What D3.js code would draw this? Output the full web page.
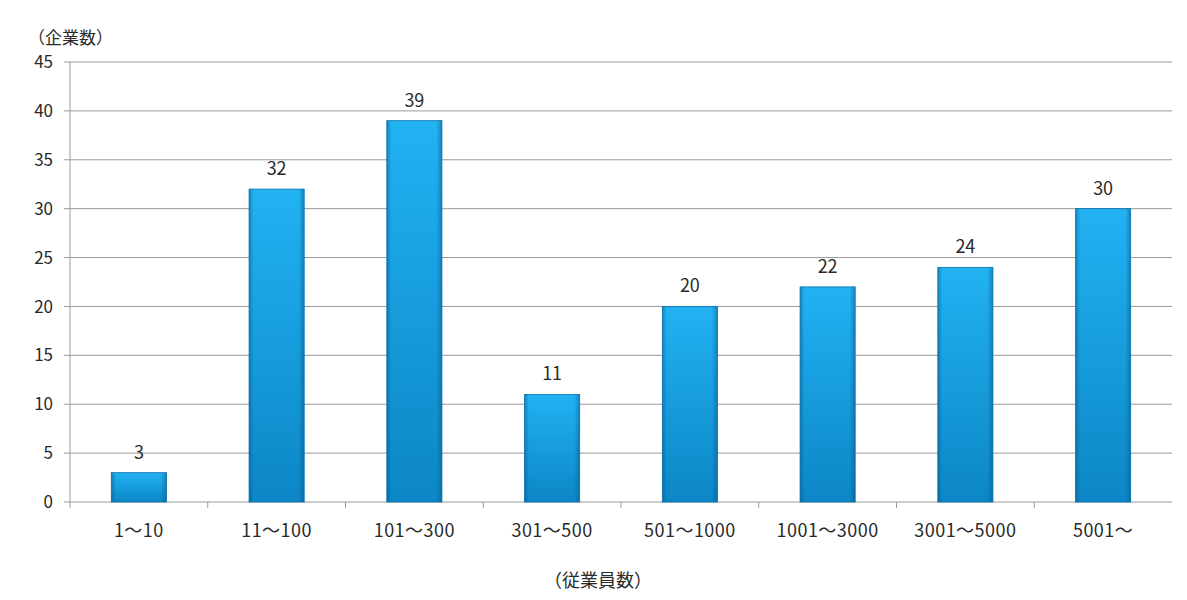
<!DOCTYPE html>
<html lang="ja">
<head>
    <meta charset="UTF-8">
    <title>企業数</title>
    <style>
        body { margin: 0; background: #fff; }
        text { font-family: "Noto Sans CJK JP", "DejaVu Sans", sans-serif; fill: #2a2a2a; }
    </style>
</head>
<body>
<svg></svg>
<script src="https://d3js.org/d3.v7.min.js"></script>
<script>
    var categories = ["1～10", "11～100", "101～300", "301～500", "501～1000", "1001～3000", "3001～5000", "5001～"];
    var counts = [3, 32, 39, 11, 20, 22, 24, 30];
    var yTicks = [0, 5, 10, 15, 20, 25, 30, 35, 40, 45];

    var width = 1187, height = 600;
    var plotLeft = 70, plotRight = 1172, plotTop = 62, plotBottom = 502;

    var svg = d3.select("svg").attr("width", width).attr("height", height);

    var defs = svg.append("defs");
    var vg = defs.append("linearGradient").attr("id", "barV").attr("x1", 0).attr("y1", 0).attr("x2", 0).attr("y2", 1);
    vg.append("stop").attr("offset", "0%").attr("stop-color", "#22b2f2");
    vg.append("stop").attr("offset", "100%").attr("stop-color", "#0c86c6");
    var hg = defs.append("linearGradient").attr("id", "barH").attr("x1", 0).attr("y1", 0).attr("x2", 1).attr("y2", 0);
    hg.append("stop").attr("offset", "0%").attr("stop-color", "#05507e").attr("stop-opacity", 0.45);
    hg.append("stop").attr("offset", "8%").attr("stop-color", "#05507e").attr("stop-opacity", 0);
    hg.append("stop").attr("offset", "90%").attr("stop-color", "#05507e").attr("stop-opacity", 0);
    hg.append("stop").attr("offset", "100%").attr("stop-color", "#05507e").attr("stop-opacity", 0.45);

    var x = d3.scaleBand().domain(categories).range([plotLeft, plotRight]).paddingInner(0.6).paddingOuter(0.3);
    var xb = d3.scaleBand().domain(categories).range([plotLeft, plotRight]);
    var y = d3.scaleLinear().domain([0, 45]).range([plotBottom, plotTop]);

    // gridlines
    svg.append("g").selectAll("line").data(yTicks).enter().append("line")
        .attr("x1", plotLeft - 6).attr("x2", plotRight)
        .attr("y1", function (d) { return y(d); })
        .attr("y2", function (d) { return y(d); })
        .attr("stroke", "#9a9a9a").attr("stroke-width", 1);

    // y axis line
    svg.append("line").attr("x1", plotLeft).attr("x2", plotLeft).attr("y1", plotTop).attr("y2", plotBottom + 6)
        .attr("stroke", "#9a9a9a");

    // x ticks at band boundaries
    svg.append("g").selectAll("line").data(categories.slice(1)).enter().append("line")
        .attr("x1", function (d) { return xb(d); })
        .attr("x2", function (d) { return xb(d); })
        .attr("y1", plotBottom).attr("y2", plotBottom + 6)
        .attr("stroke", "#9a9a9a");

    // y labels
    svg.append("g").selectAll("text").data(yTicks).enter().append("text")
        .attr("x", plotLeft - 17)
        .attr("y", function (d) { return y(d); })
        .attr("dy", "0.36em")
        .attr("text-anchor", "end")
        .style("font-size", "17px")
        .text(function (d) { return d; });

    // bars
    var bars = svg.append("g").selectAll("g").data(counts).enter().append("g");
    bars.append("rect")
        .attr("x", function (d, i) { return x(categories[i]); })
        .attr("y", function (d) { return y(d); })
        .attr("width", x.bandwidth())
        .attr("height", function (d) { return y(0) - y(d); })
        .attr("fill", "url(#barV)");
    bars.append("rect")
        .attr("x", function (d, i) { return x(categories[i]); })
        .attr("y", function (d) { return y(d); })
        .attr("width", x.bandwidth())
        .attr("height", function (d) { return y(0) - y(d); })
        .attr("fill", "url(#barH)")
        .attr("stroke", "#0a6ea8").attr("stroke-width", 0.8);

    // value labels
    svg.append("g").selectAll("text").data(counts).enter().append("text")
        .attr("x", function (d, i) { return x(categories[i]) + x.bandwidth() / 2; })
        .attr("y", function (d) { return y(d) - 14; })
        .attr("text-anchor", "middle")
        .style("font-size", "18px")
        .text(function (d) { return d; });

    // category labels
    svg.append("g").selectAll("text").data(categories).enter().append("text")
        .attr("x", function (d) { return x(d) + x.bandwidth() / 2; })
        .attr("y", 537)
        .attr("text-anchor", "middle")
        .style("font-size", "18px")
        .style("letter-spacing", "0.5px")
        .text(function (d) { return d; });

    svg.append("text").attr("x", 28).attr("y", 44).style("font-size", "17px").text("（企業数）");
    svg.append("text").attr("x", 598).attr("y", 587).attr("text-anchor", "middle").style("font-size", "18px").text("（従業員数）");
</script>
</body>
</html>
